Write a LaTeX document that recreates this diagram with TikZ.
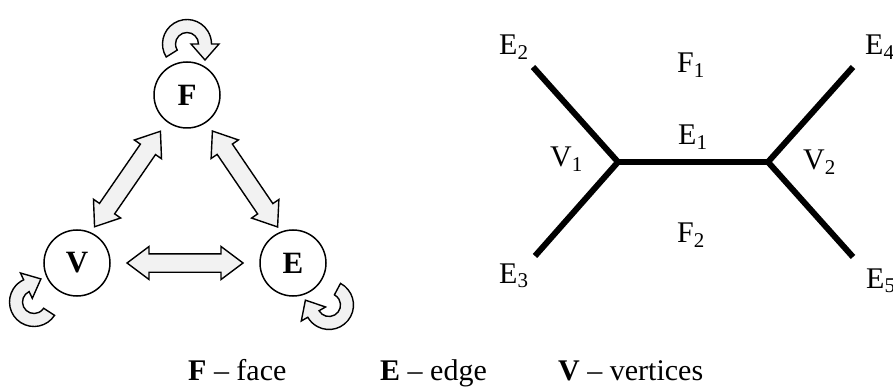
\documentclass[tikz,border=0pt]{standalone}
\usepackage{fontspec}
\setmainfont{Liberation Serif}
\usetikzlibrary{calc}
\definecolor{arrowfill}{HTML}{F2F2F2}
\newcommand{\sbs}[1]{\raisebox{-0.35ex}{\fontsize{21}{21}\selectfont #1}}
\begin{document}
\begin{tikzpicture}[x=1pt,y=1pt,
  vert/.style={circle, draw, line width=1.5pt, minimum size=66pt, inner sep=0pt, font=\fontsize{31}{31}\selectfont\bfseries},
  blk/.style={draw, line width=1.4pt, fill=arrowfill, line join=miter},
  graphedge/.style={line width=6pt},
  lbl/.style={font=\fontsize{30}{30}\selectfont, inner sep=0pt, anchor=base west},
  pics/dbl/.style={code={
     \path[blk] (-58,0) -- (-36,16.5) -- (-36,9.2) -- (36,9.2) -- (36,16.5) -- (58,0)
        -- (36,-16.5) -- (36,-9.2) -- (-36,-9.2) -- (-36,-16.5) -- cycle;}},
  pics/turn/.style={code={
     \path[blk] (212:24.5) arc[start angle=212,end angle=0,radius=24.5] -- (32,0) -- (18,-16)
        -- (4,0) -- (11.5,0) arc[start angle=0,end angle=212,radius=11.5] -- cycle;}}
]
\useasboundingbox (0,0) rectangle (893,-387);

% left diagram
\node[vert] (F) at (187,-95) {F};
\node[vert] (V) at (77,-263) {V};
\node[vert] (E) at (293,-263) {E};

\pic[rotate=55.4] at ($(F)!0.5!(V)+(-4.5,0)$) {dbl};
\pic[rotate=-55.8] at ($(F)!0.5!(E)+(5,0)$) {dbl};
\pic at ($(V)!0.5!(E)$) {dbl};

\pic at ($(F)+(0,51)$) {turn};
\pic[rotate=115] at ($(V)+(-43,-39)$) {turn};
\pic[rotate=210] at ($(E)+(36,-42)$) {turn};

% right diagram
\coordinate (V1) at (618,-162);
\coordinate (V2) at (768,-162);
\coordinate (e2) at (533,-67);
\coordinate (e3) at (535,-256);
\coordinate (e4) at (853,-67);
\coordinate (e5) at (853,-257);
\draw[graphedge] (e2) -- (V1) -- (e3);
\draw[graphedge] (V1) -- (V2);
\draw[graphedge] (e4) -- (V2) -- (e5);

\node[lbl] (lE2) at (499,-55) {E\sbs{2}};
\node[lbl] (lF1) at (677,-72.5) {F\sbs{1}};
\node[lbl] (lE1) at (678,-145) {E\sbs{1}};
\node[lbl] (lV1) at (550,-166.5) {V\sbs{1}};
\node[lbl] (lV2) at (803,-170) {V\sbs{2}};
\node[lbl] (lF2) at (677,-242.5) {F\sbs{2}};
\node[lbl] (lE3) at (499,-283) {E\sbs{3}};
\node[lbl] (lE4) at (865,-55) {E\sbs{4}};
\node[lbl] (lE5) at (866,-288) {E\sbs{5}};

% legend
\node[lbl] (lg1) at (188,-380) {\textbf{F} -- face};
\node[lbl] (lg2) at (380,-380) {\textbf{E} -- edge};
\node[lbl] (lg3) at (558,-380) {\textbf{V} -- vertices};
\end{tikzpicture}
\end{document}
